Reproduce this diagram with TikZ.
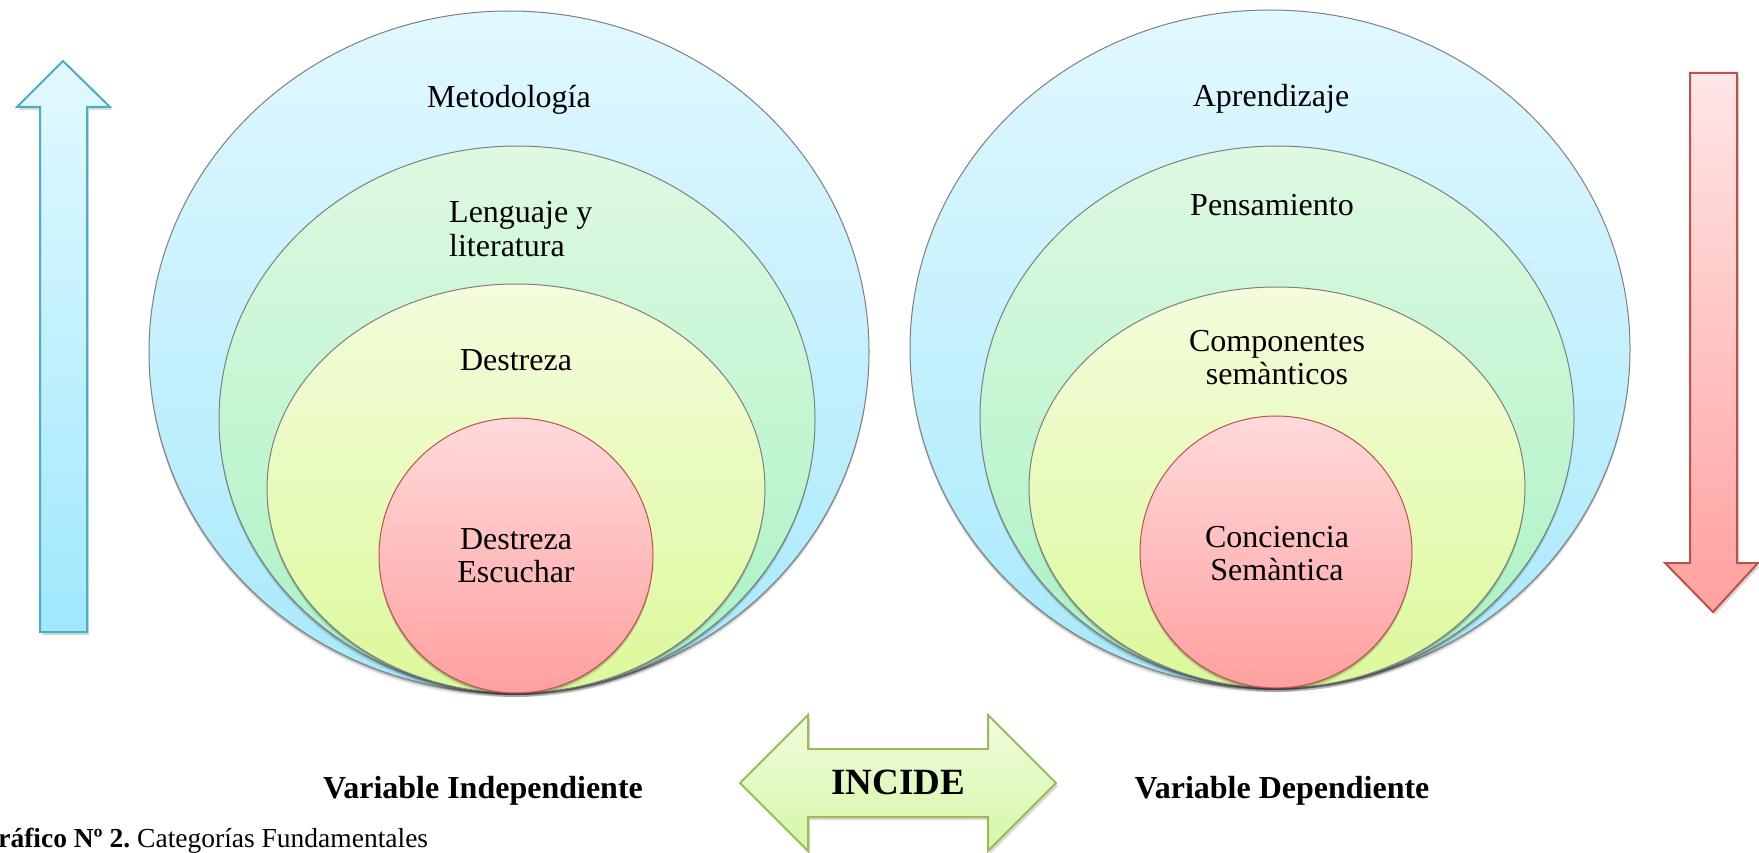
\documentclass[tikz,border=0pt]{standalone}
\usepackage{fontspec}
\setmainfont{Liberation Serif}
\usetikzlibrary{shapes.geometric,shadows}

\definecolor{ellline}{HTML}{7F7F7F}
\definecolor{bluetop}{HTML}{E1F8FF}
\definecolor{bluebot}{HTML}{A7E9FB}
\definecolor{greentop}{HTML}{DEF9E2}
\definecolor{greenbot}{HTML}{A9F2C4}
\definecolor{yeltop}{HTML}{F4FCDC}
\definecolor{yelbot}{HTML}{DCF99A}
\definecolor{redtop}{HTML}{FFDADB}
\definecolor{redbot}{HTML}{FFA09F}
\definecolor{redline}{HTML}{C0504D}
\definecolor{arrblue}{HTML}{4BACC6}
\definecolor{arrbluetop}{HTML}{E3F9FF}
\definecolor{arrbluebot}{HTML}{9FE8FD}
\definecolor{arrredtop}{HTML}{FFE6E6}
\definecolor{arrredbot}{HTML}{FFA19F}
\definecolor{arrgreen}{HTML}{9BBB59}
\definecolor{arrgreentop}{HTML}{F0FCDD}
\definecolor{arrgreenbot}{HTML}{D5F7A6}

\tikzset{
  ellbase/.style={ellipse, inner sep=0pt, draw=ellline, line width=1pt,
    general shadow={shadow yshift=-2pt, fill=black, opacity=.22},
    general shadow={shadow yshift=-4pt, fill=black, opacity=.10}},
  ellblue/.style={ellbase, top color=bluetop, bottom color=bluebot},
  ellgreen/.style={ellbase, top color=greentop, bottom color=greenbot},
  ellyel/.style={ellbase, top color=yeltop, bottom color=yelbot},
  ellred/.style={ellbase, draw=redline, top color=redtop, bottom color=redbot},
  txt/.style={font=\fontsize{32}{33}\selectfont, inner sep=0pt, align=center},
  txtb/.style={font=\bfseries\fontsize{32}{33}\selectfont, inner sep=0pt},
  arrshadow/.style={general shadow={shadow xshift=2pt, shadow yshift=-3pt, fill=black, opacity=.15}},
  upar/.style={draw=arrblue, line width=2pt, line join=miter, top color=arrbluetop, bottom color=arrbluebot, arrshadow},
  downar/.style={draw=redline, line width=2pt, line join=miter, top color=arrredtop, bottom color=arrredbot, arrshadow},
  incar/.style={draw=arrgreen, line width=2pt, line join=miter, top color=arrgreentop, bottom color=arrgreenbot, arrshadow}
}

\begin{document}
\begin{tikzpicture}[x=1pt,y=-1pt]
\fill[white] (0,0) rectangle (1759,853);
\useasboundingbox (0,0) rectangle (1759,853);

% left arrow (up)
\path[upar] (63,61) -- (110,107) -- (87,107) -- (87,632) -- (40,632) -- (40,107) -- (17,107) -- cycle;

% right arrow (down)
\path[downar] (1690,73) -- (1737,73) -- (1737,563) -- (1758,563) -- (1713,612) -- (1665,563) -- (1690,563) -- cycle;

% left group
\node[ellblue, minimum width=720pt, minimum height=682pt] (L1) at (509,352) {};
\node[ellgreen, minimum width=596pt, minimum height=547pt] (L2) at (517,419.5) {};
\node[ellyel, minimum width=498pt, minimum height=409pt] (L3) at (516,488.5) {};
\node[ellred, minimum width=274pt, minimum height=275pt] (L4) at (516,555.5) {};

% right group
\node[ellblue, minimum width=720pt, minimum height=678pt] (R1) at (1270,349) {};
\node[ellgreen, minimum width=594pt, minimum height=542pt] (R2) at (1277,417) {};
\node[ellyel, minimum width=496pt, minimum height=401pt] (R3) at (1277,487.5) {};
\node[ellred, minimum width=272pt, minimum height=272pt] (R4) at (1276,552) {};

% texts left (for two-line nodes, base = baseline of the last line)
\node[txt, anchor=base] (t1) at (509,108) {Metodología};
\node[txt, anchor=base west, align=left] (t2) at (449,256) {Lenguaje y\\literatura};
\node[txt, anchor=base] (t3) at (516,370) {Destreza};
\node[txt, anchor=base] (t4) at (516,582) {Destreza\\Escuchar};

% texts right
\node[txt, anchor=base] (u1) at (1271,107) {Aprendizaje};
\node[txt, anchor=base] (u2) at (1272,216) {Pensamiento};
\node[txt, anchor=base] (u3) at (1277,384) {Componentes\\semànticos};
\node[txt, anchor=base] (u4) at (1277,580) {Conciencia\\Semàntica};

% INCIDE double arrow
\path[incar] (740,783) -- (808,715) -- (808,749) -- (988,749) -- (988,715) -- (1056,783) -- (988,851) -- (988,817) -- (808,817) -- (808,851) -- cycle;
\node[font=\bfseries\fontsize{37}{40}\selectfont, inner sep=0pt, anchor=base] (inc) at (898,794) {INCIDE};

% bottom labels
\node[txtb, anchor=base] (vi) at (483,798) {Variable Independiente};
\node[txtb, anchor=base] (vd) at (1282,798) {Variable Dependiente};

% caption (its first letter lies past the left edge, as in the reference)
\node[anchor=base west, inner sep=0pt, font=\fontsize{27.5}{30}\selectfont] (cap) at (137,847) {\llap{\textbf{Gráfico Nº 2.}\ }Categorías Fundamentales};
\end{tikzpicture}
\end{document}
